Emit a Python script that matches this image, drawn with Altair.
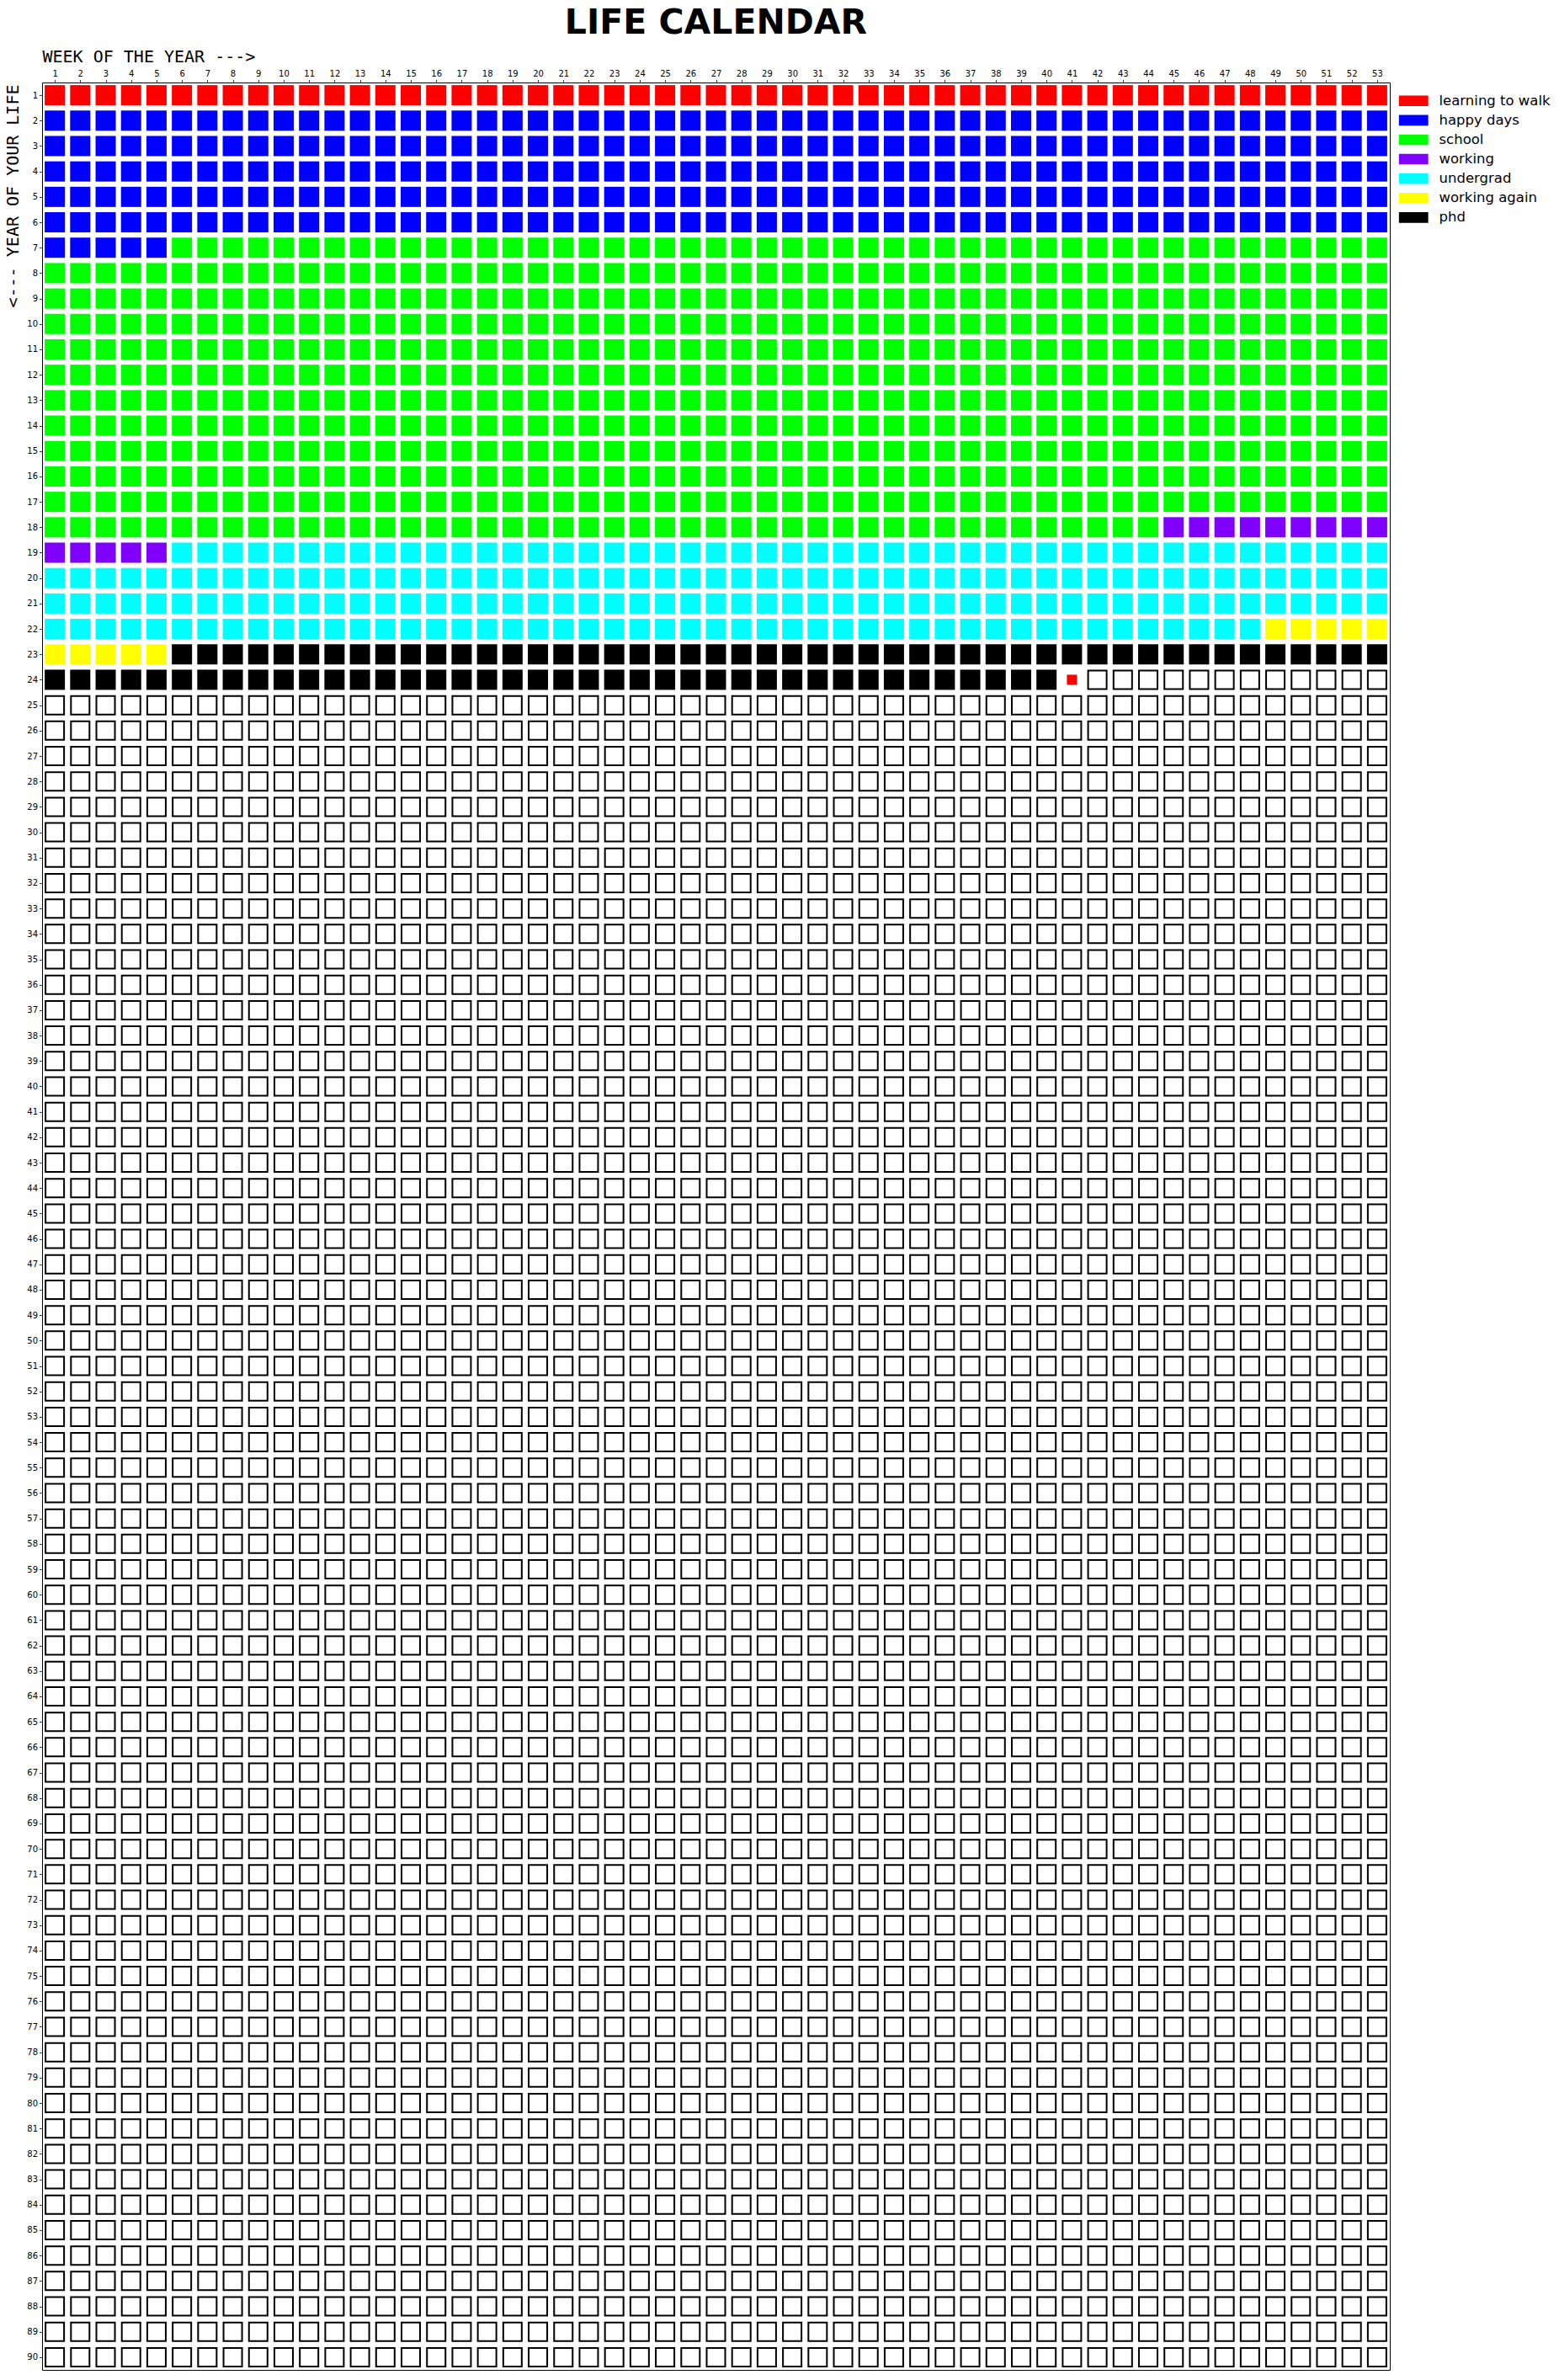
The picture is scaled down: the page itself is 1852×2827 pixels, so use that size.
import altair as alt
import pandas as pd

# ---- data ----
n_weeks = 53
n_years = 90
period_names = ["learning to walk", "happy days", "school", "working",
                "undergrad", "working again", "phd"]
period_colors = ["#ff0000", "#0000ff", "#00ff00", "#7f00ff",
                 "#00ffff", "#ffff00", "#000000"]
period_start_year = [1, 2, 7, 18, 19, 22, 23]
period_start_week = [1, 1, 6, 45, 6, 49, 6]
today_year = 24
today_week = 41

weeks = list(range(1, n_weeks + 1))
years = list(range(1, n_years + 1))


def idx(y, w):
    return (y - 1) * n_weeks + (w - 1)


starts = [idx(y, w) for y, w in zip(period_start_year, period_start_week)]
now = idx(today_year, today_week)

filled, empty, current = [], [], []
for y in years:
    for w in weeks:
        i = idx(y, w)
        if i < now:
            p = max(k for k, s in enumerate(starts) if s <= i)
            filled.append({"week": w, "year": y, "period": period_names[p]})
        elif i == now:
            current.append({"week": w, "year": y})
        else:
            empty.append({"week": w, "year": y})

df_filled = pd.DataFrame(filled)
df_empty = pd.DataFrame(empty)
df_current = pd.DataFrame(current)

x_enc = alt.X(
    "week:O",
    scale=alt.Scale(domain=weeks),
    axis=alt.Axis(
        orient="top", labelAngle=0, title="WEEK OF THE YEAR --->",
        titleFont="DejaVu Sans Mono", titleFontSize=20, titleFontWeight="normal",
        titleX=0, titleY=-25, titleAlign="left", titleBaseline="alphabetic",
        titleColor="#000000",
    ),
)
y_enc = alt.Y(
    "year:O",
    scale=alt.Scale(domain=years),
    axis=alt.Axis(
        title="<--- YEAR OF YOUR LIFE",
        titleFont="DejaVu Sans Mono", titleFontSize=20, titleFontWeight="normal",
        titleX=-35, titleY=2, titleAngle=270, titleAlign="right",
        titleBaseline="middle", titleColor="#000000",
    ),
)

filled_layer = alt.Chart(df_filled).mark_square(size=576, opacity=1, strokeWidth=0).encode(
    x=x_enc,
    y=y_enc,
    color=alt.Color(
        "period:N",
        scale=alt.Scale(domain=period_names, range=period_colors),
        legend=alt.Legend(
            title=None, orient="none", legendX=1621, legendY=13.5,
            symbolType="M-2.9,-1.05L2.9,-1.05L2.9,1.05L-2.9,1.05Z", symbolSize=144,
            symbolStrokeWidth=0, symbolOpacity=1,
            labelFont="DejaVu Sans", labelFontSize=16.5, labelColor="#000000",
            labelOffset=22, rowPadding=6.1, padding=0,
        ),
    ),
)

empty_layer = alt.Chart(df_empty).mark_square(
    size=484, filled=True, fill="white", stroke="black", strokeWidth=2, opacity=1
).encode(x=x_enc, y=y_enc)

current_layer = alt.Chart(df_current).mark_square(
    size=144, filled=True, color="#ff0000", opacity=1, strokeWidth=0
).encode(x=x_enc, y=y_enc)

chart = alt.layer(filled_layer, empty_layer, current_layer).properties(
    width=1601,
    height=2717,
    title=alt.TitleParams(
        "LIFE CALENDAR", font="DejaVu Sans", fontSize=41, fontWeight="bold",
        anchor="middle", frame="group", color="#000000", offset=8,
    ),
    autosize=alt.AutoSizeParams(type="none"),
    padding={"left": 50, "top": 98, "right": 201, "bottom": 12},
).configure_view(
    stroke="#000000", strokeWidth=1
).configure_axis(
    labelFont="DejaVu Sans", labelFontSize=10, labelColor="#000000",
    tickColor="#000000", tickSize=3.5, tickWidth=0.8, domain=False, grid=False,
    labelPadding=2,
)

chart.save("out.html", embed_options={"renderer": "svg", "actions": False})
